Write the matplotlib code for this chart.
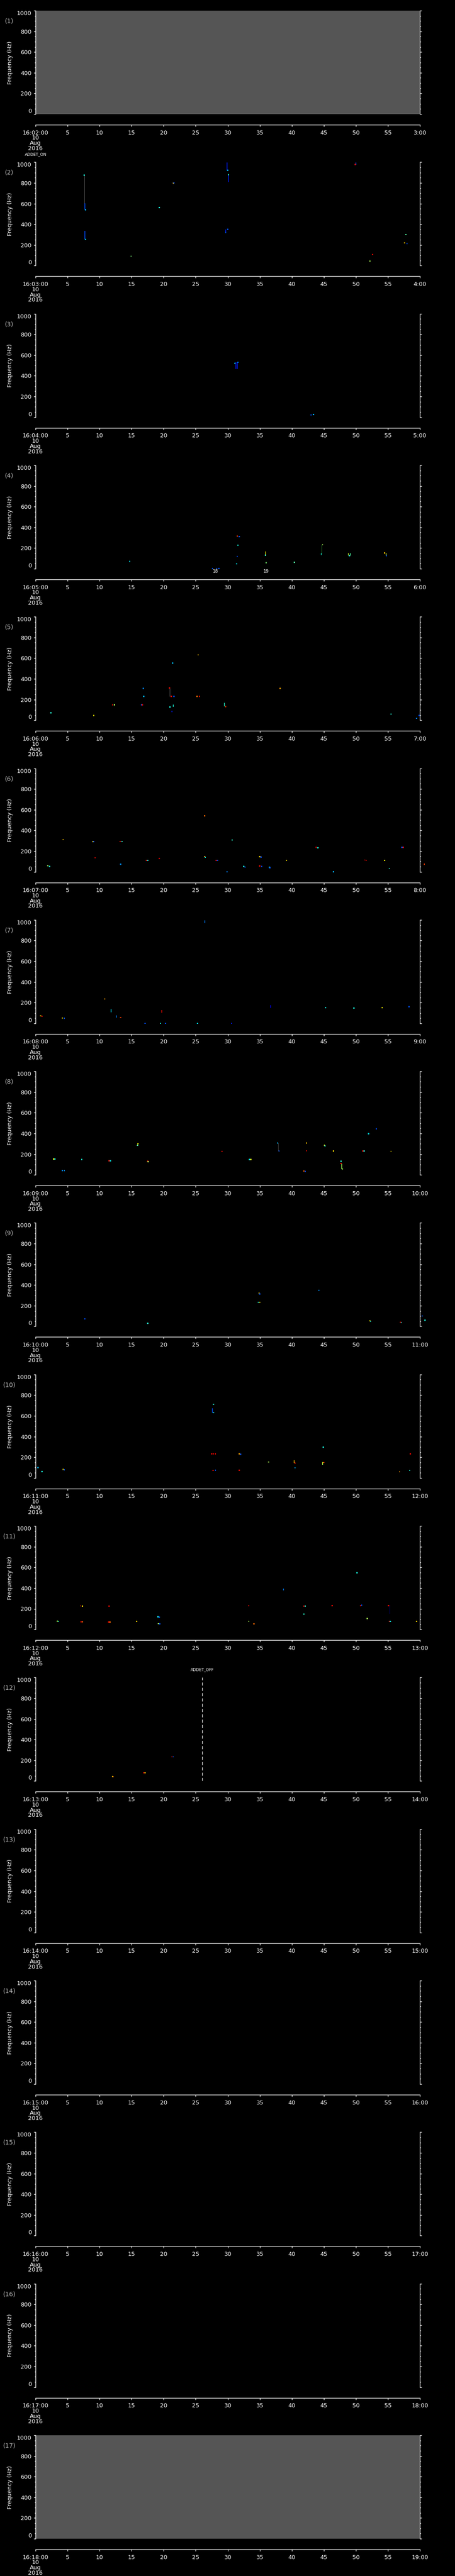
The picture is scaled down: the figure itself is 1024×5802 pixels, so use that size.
import matplotlib
matplotlib.use("Agg")
import matplotlib.pyplot as plt
from matplotlib.ticker import MultipleLocator, FixedLocator
import matplotlib.transforms as mtrans

plt.rcParams['font.family'] = ['DejaVu Sans']

# panel start minute (16:MM:00), one minute per panel
start_minutes = list(range(2, 19))
gray_panels = [1, 17]          # panels with no data (filled gray)
x_ticks = list(range(0, 61, 5))

# dots: (seconds, frequency Hz, colour value 0..1 on the jet scale)
dots_02 = [(7.6, 876, 0.38), (7.8, 540, 0.3), (7.8, 254, 0.35), (14.9, 91, 0.5),
           (19.3, 561, 0.38), (21.5, 797, 0.7), (21.6, 800, 0.2), (30.0, 921, 0.3),
           (30.1, 880, 0.4), (29.7, 320, 0.2), (30.0, 350, 0.2), (49.9, 978, 0.9),
           (52.6, 109, 0.9), (52.2, 44, 0.55), (57.6, 221, 0.7), (58.0, 214, 0.2),
           (57.8, 301, 0.45)]
dots_03 = [(31.1, 522, 0.35), (31.6, 531, 0.25), (43.0, 22, 0.2), (43.4, 26, 0.3)]
dots_04 = [(14.7, 70, 0.35), (31.5, 314, 0.85), (31.8, 312, 0.2), (31.6, 228, 0.38),
           (31.5, 120, 0.2), (31.4, 47, 0.35), (27.6, 3, 0.2), (28.3, 3, 0.2),
           (28.6, 3, 0.2), (35.9, 130, 0.4), (36.0, 57, 0.5), (40.4, 62, 0.45),
           (44.8, 231, 0.55), (49.0, 127, 0.4), (54.5, 151, 0.7), (54.8, 127, 0.2)]
dots_05 = [(2.4, 72, 0.4), (9.1, 46, 0.65), (12.0, 149, 0.9), (12.3, 149, 0.55),
           (16.5, 149, 0.2), (16.7, 149, 0.9), (16.8, 309, 0.25), (16.9, 231, 0.3),
           (20.9, 313, 0.9), (21.2, 231, 0.9), (21.6, 231, 0.2), (21.0, 128, 0.38),
           (21.3, 86, 0.15), (21.4, 553, 0.3), (25.4, 632, 0.7), (25.2, 231, 0.8),
           (25.6, 231, 0.9), (29.7, 132, 0.85), (38.2, 309, 0.75), (55.5, 59, 0.4),
           (59.5, 19, 0.25), (59.9, 46, 0.2)]
dots_06 = [(1.9, 58, 0.55), (2.2, 51, 0.38), (4.3, 312, 0.7), (9.0, 293, 0.68),
           (9.1, 291, 0.2), (9.3, 136, 0.9), (13.2, 294, 0.9), (13.5, 294, 0.4),
           (13.3, 72, 0.25), (17.3, 110, 0.9), (17.5, 110, 0.38), (19.3, 130, 0.95),
           (26.4, 541, 0.8), (26.4, 149, 0.75), (26.5, 140, 0.38), (28.2, 110, 0.9),
           (28.4, 110, 0.2), (29.9, 0, 0.25), (30.7, 307, 0.4), (32.5, 51, 0.38),
           (32.7, 46, 0.2), (35.0, 147, 0.7), (35.2, 143, 0.2), (35.0, 56, 0.9),
           (35.3, 53, 0.2), (36.5, 43, 0.38), (36.6, 38, 0.2), (39.2, 110, 0.68),
           (43.8, 236, 0.95), (44.1, 231, 0.38), (46.5, 0, 0.3), (51.4, 114, 0.95),
           (51.6, 110, 0.9), (54.5, 110, 0.65), (55.2, 32, 0.4), (57.2, 235, 0.2),
           (57.4, 237, 0.9), (60.7, 72, 0.85)]
dots_07 = [(0.8, 72, 0.7), (1.0, 68, 0.9), (4.2, 51, 0.68), (4.5, 48, 0.2),
           (10.8, 236, 0.75), (13.3, 56, 0.85), (17.1, 0, 0.2), (19.5, 0, 0.38),
           (20.3, 0, 0.2), (25.3, 0, 0.35), (30.6, 0, 0.15), (45.3, 151, 0.38),
           (49.7, 147, 0.38), (54.1, 152, 0.65), (58.3, 160, 0.2)]
dots_08 = [(2.8, 153, 0.65), (3.0, 153, 0.38), (4.2, 42, 0.25), (4.5, 42, 0.25),
           (7.2, 149, 0.38), (11.5, 136, 0.9), (11.7, 136, 0.38), (15.9, 284, 0.45),
           (16.0, 301, 0.65), (17.5, 131, 0.9), (17.6, 127, 0.55), (29.1, 228, 0.9),
           (33.4, 149, 0.38), (33.6, 149, 0.65), (37.8, 308, 0.3), (38.0, 231, 0.2),
           (42.3, 308, 0.7), (42.3, 232, 0.9), (41.9, 36, 0.8), (42.1, 33, 0.2),
           (45.1, 287, 0.65), (45.2, 279, 0.38), (46.5, 231, 0.68), (47.7, 132, 0.4),
           (47.7, 110, 0.9), (47.9, 57, 0.55), (51.1, 231, 0.9), (51.3, 231, 0.38),
           (55.5, 229, 0.68), (52.0, 398, 0.35), (53.2, 444, 0.2)]
dots_09 = [(7.7, 74, 0.2), (17.5, 31, 0.4), (34.9, 323, 0.68), (35.0, 314, 0.2),
           (34.8, 233, 0.38), (35.0, 233, 0.68), (44.2, 349, 0.25), (52.2, 54, 0.65),
           (52.3, 49, 0.38), (57.0, 41, 0.9), (57.1, 36, 0.38), (60.4, 100, 0.2),
           (60.8, 60, 0.38)]
dots_10 = [(0.4, 99, 0.3), (1.0, 61, 0.38), (4.3, 82, 0.68), (4.5, 78, 0.2),
           (27.8, 712, 0.4), (27.8, 630, 0.38), (27.5, 234, 0.9), (27.8, 234, 0.95),
           (28.1, 234, 0.9), (27.7, 72, 0.9), (28.1, 75, 0.2), (31.8, 232, 0.75),
           (32.0, 228, 0.2), (31.8, 75, 0.9), (36.4, 154, 0.55), (40.5, 98, 0.3),
           (40.5, 144, 0.9), (44.9, 298, 0.38), (45.0, 150, 0.85), (44.8, 133, 0.55),
           (58.5, 234, 0.9), (56.8, 59, 0.75), (58.4, 72, 0.38)]
dots_11 = [(3.4, 80, 0.55), (3.6, 78, 0.38), (7.0, 228, 0.9), (7.3, 226, 0.68),
           (7.1, 74, 0.9), (7.3, 74, 0.8), (11.5, 225, 0.9), (11.4, 72, 0.9),
           (11.6, 72, 0.8), (15.8, 77, 0.68), (19.1, 124, 0.38), (19.3, 119, 0.2),
           (19.2, 56, 0.55), (19.4, 53, 0.2), (33.3, 231, 0.9), (33.3, 77, 0.55),
           (34.1, 55, 0.8), (41.9, 225, 0.9), (42.1, 225, 0.38), (41.9, 149, 0.4),
           (46.3, 231, 0.9), (50.2, 547, 0.38), (50.7, 231, 0.9), (50.9, 235, 0.2),
           (51.8, 106, 0.55), (55.1, 230, 0.9), (55.2, 77, 0.9), (55.4, 77, 0.38),
           (59.5, 77, 0.68)]
dots_12 = [(12.0, 43, 0.68), (12.1, 40, 0.8), (16.9, 79, 0.9), (17.1, 79, 0.68),
           (21.3, 234, 0.9), (21.5, 234, 0.2)]

# short vertical tracks: (seconds, f_start, f_end, colour value)
segs_02 = [(7.7, 601, 540, 0.2), (7.7, 336, 254, 0.2), (29.9, 997, 921, 0.15),
           (30.1, 880, 807, 0.15), (29.7, 318, 350, 0.15), (50.0, 975, 997, 0.2)]
segs_03 = [(31.3, 531, 467, 0.15), (31.5, 531, 467, 0.15)]
segs_04 = [(35.95, 166, 130, 0.65), (44.6, 150, 133, 0.38), (48.8, 151, 127, 0.6),
           (49.2, 151, 127, 0.45), (54.7, 151, 127, 0.6)]
segs_05 = [(21.5, 151, 128, 0.38), (29.5, 167, 132, 0.4)]
segs_07 = [(26.4, 997, 968, 0.25), (11.8, 135, 107, 0.35), (12.6, 75, 56, 0.25),
           (19.7, 127, 104, 0.9), (36.7, 175, 151, 0.12)]
segs_08 = [(15.95, 301, 284, 0.55), (47.8, 110, 57, 0.55)]
segs_10 = [(27.6, 673, 630, 0.2), (40.4, 170, 144, 0.7), (44.8, 154, 133, 0.6)]
segs_11 = [(38.7, 396, 376, 0.25)]

# thin connecting lines: (seconds, f_start, f_end, colour)
thin_02 = [(7.6, 876, 601, '#808080')]
thin_04 = [(44.7, 231, 150, '#40d040')]
thin_05 = [(20.95, 313, 231, '#808080')]
thin_08 = [(37.9, 308, 231, '#606060')]
thin_11 = [(55.3, 230, 156, '#0000c0')]

# event markers: (panel, seconds, text, draw dashed line)
events = [(2, 0.0, 'ADDET_ON', False), (12, 26.0, 'ADDET_OFF', True)]
# small track numbers under panel 4
track_labels_04 = [(28.1, '18'), (36.0, '19')]

panel_dots = {2: dots_02, 3: dots_03, 4: dots_04, 5: dots_05, 6: dots_06, 7: dots_07,
              8: dots_08, 9: dots_09, 10: dots_10, 11: dots_11, 12: dots_12}
panel_segs = {2: segs_02, 3: segs_03, 4: segs_04, 5: segs_05, 7: segs_07,
              8: segs_08, 10: segs_10, 11: segs_11}
panel_thin = {2: thin_02, 4: thin_04, 5: thin_05, 8: thin_08, 11: thin_11}

W, H = 1024, 5802
fig = plt.figure(figsize=(W / 100, H / 100), dpi=100, facecolor='black')
jet = plt.get_cmap('jet')
PT = 0.72  # points per pixel at 100 dpi

for i, minute in enumerate(start_minutes):
    n = i + 1
    top = 24 + i * 341.31
    ax = fig.add_axes([80 / W, 1 - (top + 233) / H, 865 / W, 233 / H])
    ax.set_facecolor('#555555' if n in gray_panels else 'black')
    ax.set_xlim(0, 60)
    ax.set_ylim(0, 1000)

    for s in ['left', 'right', 'bottom']:
        ax.spines[s].set_color('white')
        ax.spines[s].set_linewidth(1.0)
    ax.spines['top'].set_visible(False)
    ax.spines['bottom'].set_position(('outward', 24 * PT))

    ax.yaxis.set_major_locator(MultipleLocator(200))
    ax.yaxis.set_minor_locator(MultipleLocator(50))
    ax.tick_params(axis='y', which='both', direction='out', left=True, right=True,
                   colors='white', labelsize=9.4, width=1.0)
    ax.tick_params(axis='y', which='major', length=4 * PT, pad=3.6)
    ax.tick_params(axis='y', which='minor', length=2 * PT)
    ax.tick_params(axis='x', which='major', direction='out', colors='white',
                   labelsize=9.4, length=4 * PT, width=1.0, pad=5.5)
    ax.xaxis.set_major_locator(FixedLocator(x_ticks))
    labels = ['16:%02d:00' % minute] + [str(v) for v in x_ticks[1:-1]] + ['%d:00' % (minute + 1)]
    ax.set_xticklabels(labels)

    for lab, val in zip(ax.yaxis.get_majorticklabels(), ax.get_yticks()):
        if val >= 1000:
            lab.set_va('top')
        elif val <= 0:
            lab.set_va('bottom')

    # date lines under the first tick
    trans = mtrans.blended_transform_factory(ax.transData, fig.transFigure)
    for k, txt in enumerate(['10', 'Aug', '2016']):
        ax.text(0, 1 - (top + 287 + k * 11.7) / H, txt, transform=trans, ha='center',
                va='center', color='white', fontsize=9.4, clip_on=False)

    fig.text(21 / W, 1 - (top + 23.5) / H, '(%d)' % n, color='#b8b8b8', fontsize=10,
             ha='center', va='center')
    fig.text(23 / W, 1 - (top + 117) / H, 'Frequency (Hz)', color='white', fontsize=9.3,
             rotation=90, ha='center', va='center')

    for t, f0, f1, c in panel_thin.get(n, []):
        ax.plot([t, t], [f0, f1], color=c, lw=0.5, clip_on=False)
    for t, f0, f1, c in panel_segs.get(n, []):
        ax.plot([t, t], [f0, f1], color=jet(c), lw=1.1, solid_capstyle='butt', clip_on=False)
    d = panel_dots.get(n, [])
    if d:
        ax.scatter([p[0] for p in d], [p[1] for p in d], c=[jet(p[2]) for p in d],
                   marker='s', s=(2.6 * PT) ** 2, linewidths=0, clip_on=False, zorder=3)

    for pn, t, txt, dashed in events:
        if pn == n:
            ax.text(t, 1 + 17.5 / 233, txt, transform=ax.get_xaxis_transform(), ha='center',
                    va='center', color='white', fontsize=6.5, clip_on=False)
            if dashed:
                ax.plot([t, t], [0, 1000], color='white', lw=1.0, linestyle=(0, (5, 3.6)))

    if n == 4:
        for t, txt in track_labels_04:
            ax.text(t, -6 / 233, txt, transform=ax.get_xaxis_transform(), ha='center',
                    va='center', color='white', fontsize=7, clip_on=False)

fig.savefig('out.png', dpi=100, facecolor='black')
